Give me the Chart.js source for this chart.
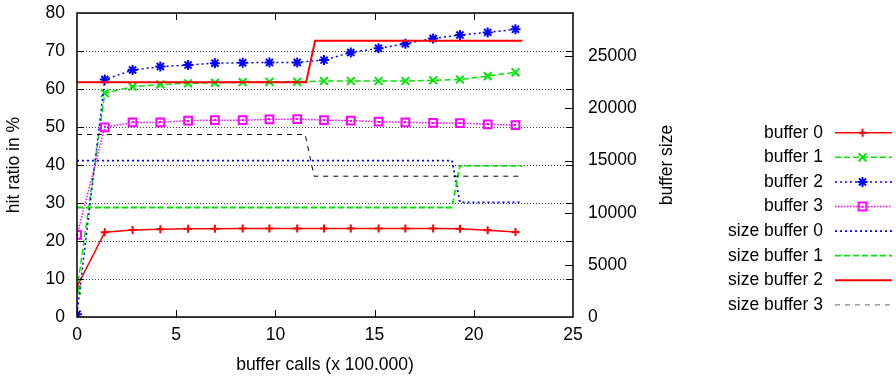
<!DOCTYPE html>
<html>
<head>
<meta charset="utf-8">
<script src="https://cdn.jsdelivr.net/npm/chart.js@4"></script>
<style>
  html, body { margin: 0; padding: 0; background: #fff; }
  #wrap { width: 896px; height: 376px; }
</style>
</head>
<body>
<div id="wrap"><canvas id="chart" width="896" height="376"></canvas></div>
<script>
// buffer calls (x 100.000) at which the hit ratios were sampled
const calls = [0, 1.4, 2.8, 4.2, 5.6, 6.95, 8.35, 9.7, 11.1, 12.45, 13.8, 15.2, 16.55, 17.95, 19.3, 20.7, 22.1];

// hit ratio in %
const buffer0 = [8.0, 22.3, 22.9, 23.1, 23.2, 23.2, 23.3, 23.3, 23.3, 23.3, 23.3, 23.3, 23.3, 23.3, 23.2, 22.8, 22.4];
const buffer1 = [7.0, 58.9, 60.6, 61.2, 61.5, 61.6, 61.8, 61.9, 61.9, 62.1, 62.1, 62.1, 62.1, 62.3, 62.5, 63.4, 64.4];
const buffer2 = [0.7, 62.5, 65.0, 65.9, 66.3, 66.8, 66.9, 67.0, 67.0, 67.6, 69.6, 70.7, 71.9, 73.3, 74.2, 74.9, 75.7];
const buffer3 = [21.6, 49.9, 51.2, 51.2, 51.7, 51.8, 51.8, 52.0, 52.1, 51.8, 51.7, 51.4, 51.2, 51.1, 51.0, 50.7, 50.5];

// buffer sizes (right axis)
const size0Calls = [0, 18.9, 19.3, 22.45];
const size0 = [15000, 15000, 11000, 11000];
const size1Calls = [0, 18.9, 19.3, 22.45];
const size1 = [10500, 10500, 14500, 14500];
const size2Calls = [0, 11.55, 12.0, 22.45];
const size2 = [22500, 22500, 26500, 26500];
const size3Calls = [0, 11.5, 11.95, 22.45];
const size3 = [17500, 17500, 13500, 13500];

const xTicks = [0, 5, 10, 15, 20, 25];
const yTicks = [0, 10, 20, 30, 40, 50, 60, 70, 80];
const y2Ticks = [0, 5000, 10000, 15000, 20000, 25000];

const FONT = '"Liberation Sans", Arial, sans-serif';
const FONT_SIZE = 17.5;

const toPoints = (xs, ys) => xs.map((x, i) => ({ x: x, y: ys[i] }));

// gnuplot style frame, inward ticks, right axis title and key
const gnuplotDecor = {
    id: 'gnuplotDecor',
    afterDatasetsDraw(chart) {
        // the little dot gnuplot puts in the middle of the box points
        const ctx = chart.ctx;
        const meta = chart.getDatasetMeta(3);
        ctx.save();
        ctx.fillStyle = chart.data.datasets[3].borderColor;
        meta.data.forEach(p => ctx.fillRect(Math.round(p.x) - 1, Math.round(p.y) - 1, 2, 2));
        ctx.restore();
    },
    afterDraw(chart) {
        const ctx = chart.ctx;
        const a = chart.chartArea;
        const sx = chart.scales.x, sy = chart.scales.y, sy2 = chart.scales.y2;
        ctx.save();
        ctx.strokeStyle = '#000';
        ctx.lineWidth = 1;
        ctx.setLineDash([]);
        ctx.beginPath();
        xTicks.forEach(v => {
            if (v <= sx.min || v >= sx.max) return;
            const px = Math.round(sx.getPixelForValue(v)) + 0.5;
            ctx.moveTo(px, a.bottom); ctx.lineTo(px, a.bottom - 7);
            ctx.moveTo(px, a.top); ctx.lineTo(px, a.top + 7);
        });
        yTicks.forEach(v => {
            if (v <= sy.min || v >= sy.max) return;
            const py = Math.round(sy.getPixelForValue(v)) + 0.5;
            ctx.moveTo(a.left, py); ctx.lineTo(a.left + 7, py);
            ctx.moveTo(a.right, py); ctx.lineTo(a.right - 7, py);
        });
        y2Ticks.forEach(v => {
            if (v <= sy2.min || v >= sy2.max) return;
            const py = Math.round(sy2.getPixelForValue(v)) + 0.5;
            ctx.moveTo(a.right, py); ctx.lineTo(a.right - 8, py);
        });
        ctx.stroke();

        ctx.lineWidth = 1.5;
        ctx.strokeRect(a.left, a.top, a.right - a.left, a.bottom - a.top);

        // right axis title, reads bottom to top
        ctx.fillStyle = '#000';
        ctx.font = FONT_SIZE + 'px ' + FONT;
        ctx.textAlign = 'center';
        ctx.textBaseline = 'middle';
        ctx.translate(667, (a.top + a.bottom) / 2);
        ctx.rotate(-Math.PI / 2);
        ctx.fillText('buffer size', 0, 0);
        ctx.restore();

        // key
        ctx.save();
        ctx.font = FONT_SIZE + 'px ' + FONT;
        ctx.textAlign = 'right';
        ctx.textBaseline = 'middle';
        chart.data.datasets.forEach((ds, i) => {
            const y = 132.7 + i * 24.6;
            ctx.fillStyle = '#000';
            ctx.fillText(ds.label, 823, y);
            ctx.strokeStyle = ds.keyColor || ds.borderColor;
            ctx.lineWidth = ds.keyWidth || ds.borderWidth;
            ctx.setLineDash(ds.borderDash || []);
            ctx.beginPath();
            ctx.moveTo(835, y);
            ctx.lineTo(892, y);
            ctx.stroke();
            if (ds.pointRadius > 0 && Chart.helpers && Chart.helpers.drawPoint) {
                ctx.setLineDash([]);
                ctx.strokeStyle = ds.pointBorderColor || ds.borderColor;
                ctx.fillStyle = 'rgba(0,0,0,0)';
                ctx.lineWidth = ds.pointBorderWidth || 1.5;
                Chart.helpers.drawPoint(ctx, {
                    pointStyle: ds.pointStyle,
                    radius: ds.pointRadius,
                    borderWidth: ds.pointBorderWidth || 1.5,
                    rotation: 0
                }, 862.5, y);
                if (ds.pointStyle === 'rect') {
                    ctx.fillStyle = ds.borderColor;
                    ctx.fillRect(861.5, Math.round(y) - 1, 2, 2);
                }
            }
        });
        ctx.restore();
    }
};

const hitSet = (label, data, color, dash, style, radius, order) => ({
    label: label,
    data: toPoints(calls, data),
    yAxisID: 'y',
    borderColor: color,
    backgroundColor: 'rgba(0,0,0,0)',
    borderWidth: 1.5,
    borderDash: dash,
    pointStyle: style,
    pointRadius: radius,
    pointBorderColor: color,
    pointBorderWidth: 2,
    pointBackgroundColor: 'rgba(0,0,0,0)',
    tension: 0,
    fill: false,
    order: order
});

const sizeSet = (label, xs, data, color, dash, width, order) => ({
    label: label,
    data: toPoints(xs, data),
    yAxisID: 'y2',
    borderColor: color,
    backgroundColor: 'rgba(0,0,0,0)',
    borderWidth: width,
    borderDash: dash,
    pointRadius: 0,
    tension: 0,
    fill: false,
    order: order
});

const datasets = [
    hitSet('buffer 0', buffer0, '#ff0000', [], 'cross', 4, 0),
    hitSet('buffer 1', buffer1, '#00e600', [6, 3], 'crossRot', 5.5, -1),
    hitSet('buffer 2', buffer2, '#0000ff', [2, 3], 'star', 5, -2),
    hitSet('buffer 3', buffer3, '#ff00ff', [1.5, 1.5], 'rect', 5.5, -3),
    sizeSet('size buffer 0', size0Calls, size0, '#0000ff', [2, 3], 1.8, -4),
    sizeSet('size buffer 1', size1Calls, size1, '#00e600', [6, 3], 1.8, -5),
    sizeSet('size buffer 2', size2Calls, size2, '#ff0000', [], 2, -6),
    sizeSet('size buffer 3', size3Calls, size3, '#000000', [5, 5], 1, -7)
];
datasets[7].keyColor = '#666666';

Chart.defaults.font.family = FONT;
Chart.defaults.font.size = FONT_SIZE;
Chart.defaults.color = '#000';

const noEdgePadding = s => {
    s.paddingTop = 0;
    s.paddingBottom = 0;
    s.paddingLeft = 0;
    s.paddingRight = 0;
};

new Chart(document.getElementById('chart').getContext('2d'), {
    type: 'line',
    data: { datasets: datasets },
    options: {
        responsive: false,
        animation: false,
        layout: { padding: { top: 13, left: 0, right: 0, bottom: 0 } },
        plugins: {
            legend: { display: false },
            tooltip: { enabled: false }
        },
        scales: {
            x: {
                type: 'linear',
                min: 0,
                max: 25,
                afterBuildTicks: s => { s.ticks = xTicks.map(v => ({ value: v })); },
                afterFit: s => { s.height = 59; noEdgePadding(s); },
                ticks: { padding: 8, maxRotation: 0 },
                grid: { display: false, drawTicks: false },
                border: { display: false },
                title: {
                    display: true,
                    text: 'buffer calls (x 100.000)',
                    padding: { top: 0, bottom: 0.5 }
                }
            },
            y: {
                type: 'linear',
                position: 'left',
                min: 0,
                max: 80,
                afterBuildTicks: s => { s.ticks = yTicks.map(v => ({ value: v })); },
                afterFit: s => { s.width = 77; noEdgePadding(s); },
                ticks: { padding: 12 },
                grid: { color: '#444', lineWidth: 1, drawTicks: false },
                border: { display: false, dash: [1, 2] },
                title: {
                    display: true,
                    text: 'hit ratio in %',
                    padding: { top: 3.5, bottom: 0 }
                }
            },
            y2: {
                type: 'linear',
                position: 'right',
                min: 0,
                max: 29150,
                afterBuildTicks: s => { s.ticks = y2Ticks.map(v => ({ value: v })); },
                afterFit: s => { s.width = 323; noEdgePadding(s); },
                ticks: { padding: 15, callback: v => String(v) },
                grid: { display: false, drawTicks: false },
                border: { display: false }
            }
        }
    },
    plugins: [gnuplotDecor]
});
</script>
</body>
</html>
